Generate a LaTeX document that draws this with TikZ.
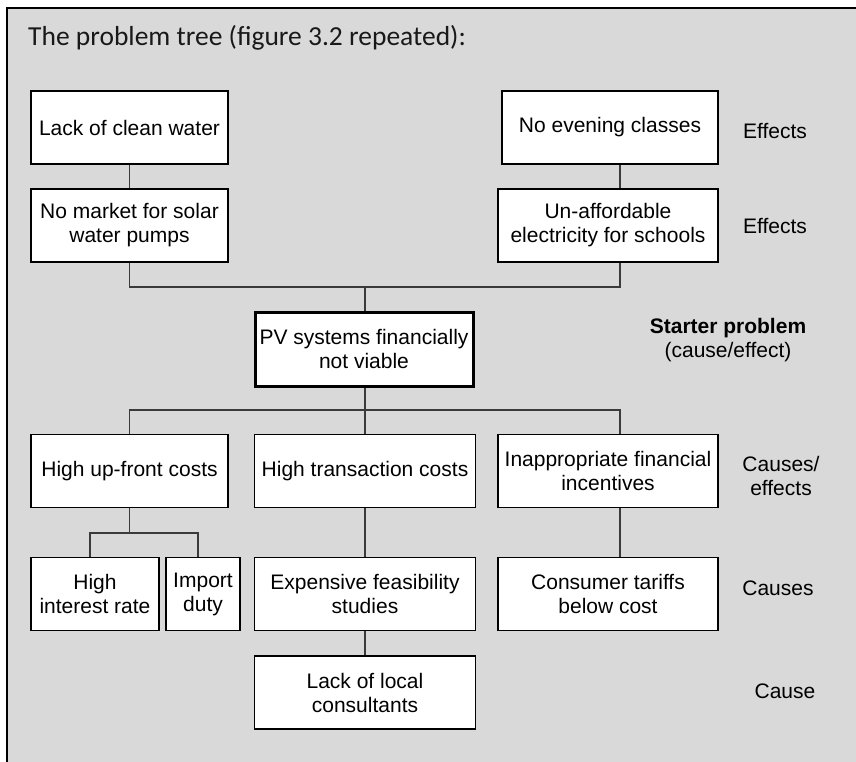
\documentclass[tikz,border=0pt]{standalone}
\usepackage{fontspec}
\setmainfont{Liberation Sans}
\newfontfamily\titlefont{Carlito}
\definecolor{panel}{HTML}{D9D9D9}
\definecolor{wire}{HTML}{3A3A3A}
\begin{document}
\begin{tikzpicture}[x=1pt,y=-1pt,
  box/.style={draw=black,line width=1.2pt,fill=white,minimum height=73pt,
    inner sep=0pt,align=center,font=\fontsize{21}{24}\selectfont},
  side/.style={box,minimum width=197pt},
  mid/.style={box,minimum width=221pt},
  rside/.style={box,minimum width=220pt},
  keybox/.style={box,line width=3pt,minimum width=218pt,minimum height=74pt},
  tag/.style={align=center,inner sep=0pt,font=\fontsize{21}{24}\selectfont},
  link/.style={draw=wire,line width=1.2pt}
]
\useasboundingbox (0,0) rectangle (856,762);
\clip (0,0) rectangle (856,762);

% panel with frame running off the right and bottom edges
\draw[fill=panel,line width=2pt] (7,8.5) rectangle (900,800);

% title
\node[anchor=base west,inner sep=0pt,font=\titlefont\fontsize{27.5}{32}\selectfont,text=black!90]
  (title) at (28,46) {The problem tree (figure 3.2 repeated):};

% column guides
\coordinate (lc) at (129.5,0);
\coordinate (mc) at (365,0);
\coordinate (rc) at (620,0);
\coordinate (topbar) at (0,287);
\coordinate (lowbar) at (0,410);
\coordinate (subbar) at (0,533);
\coordinate (ha) at (90,0);
\coordinate (hb) at (198,0);

% effects
\node[side] (lcw) at (129.5,127.5) {Lack of clean water};
\node[box,minimum width=216pt] (nec) at (610,127.5) {No evening classes};
\node[side] (nmk) at (129.5,225.5) {No market for solar\\water pumps};
\node[rside] (una) at (608,225.5) {Un-affordable\\electricity for schools};

% starter problem
\node[keybox] (pv) at (364,349) {PV systems financially\\not viable};

% causes / effects
\node[side] (huc) at (129.5,471) {High up-front costs};
\node[mid] (htc) at (365,471) {High transaction costs};
\node[rside] (ifi) at (608,471) {Inappropriate financial\\incentives};

% causes
\node[box,minimum width=128pt] (hir) at (95,594) {High\\interest rate};
\node[box,minimum width=74pt] (imd) at (203,594) {Import\\duty};
\node[mid] (efs) at (365,594) {Expensive feasibility\\studies};
\node[rside] (ctb) at (608,594) {Consumer tariffs\\below cost};
\node[mid] (llc) at (365,692.5) {Lack of local\\consultants};

% row labels
\node[tag] (t1) at (775,131) {Effects};
\node[tag] (t2) at (775,226) {Effects};
\node[tag] (t3) at (728,340) {\textbf{Starter problem}\\(cause/effect)};
\node[tag] (t4) at (781,476) {Causes/\\effects};
\node[tag] (t5) at (778,588) {Causes};
\node[tag] (t6) at (785,691) {Cause};

% connectors
\draw[link] (lcw.south) -- (nmk.north);
\draw[link] (nec.south -| rc) -- (una.north -| rc);
\draw[link] (nmk.south) -- (topbar -| lc) -- (topbar -| rc) -- (una.south -| rc);
\draw[link] (topbar -| mc) -- (pv.north -| mc);
\draw[link] (pv.south -| mc) -- (lowbar -| mc);
\draw[link] (huc.north) -- (lowbar -| lc) -- (lowbar -| rc) -- (ifi.north -| rc);
\draw[link] (lowbar -| mc) -- (htc.north);
\draw[link] (huc.south) -- (subbar -| lc);
\draw[link] (hir.north -| ha) -- (subbar -| ha) -- (subbar -| hb) -- (imd.north -| hb);
\draw[link] (htc.south) -- (efs.north);
\draw[link] (efs.south) -- (llc.north);
\draw[link] (ifi.south -| rc) -- (ctb.north -| rc);
\end{tikzpicture}
\end{document}
